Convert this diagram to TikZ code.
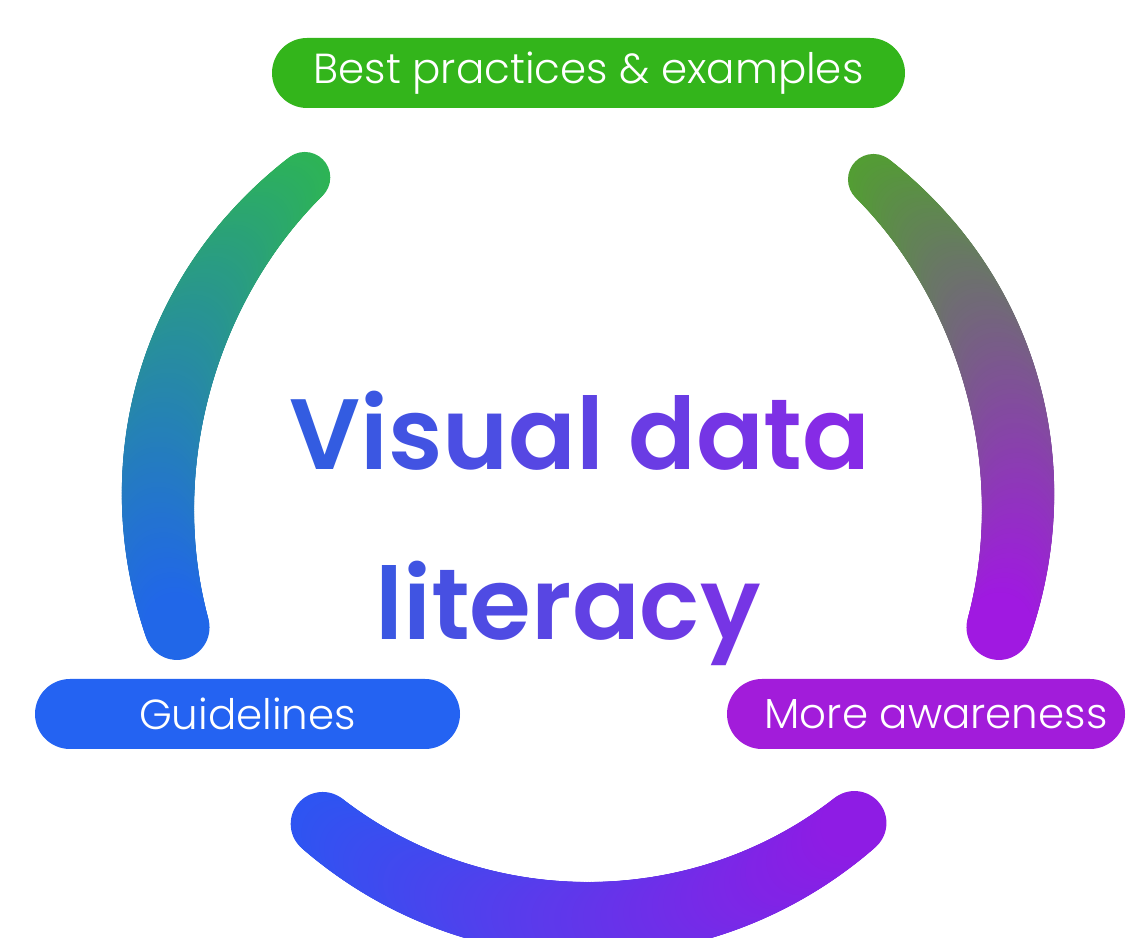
\documentclass[tikz,border=0pt]{standalone}
\usepackage{fontspec}
\setmainfont{Poppins}
\newfontfamily\pillfont{Poppins Light}
\newfontfamily\titlefont{Poppins SemiBold}
\definecolor{pillgreen}{RGB}{51,181,27}
\definecolor{pillblue}{RGB}{36,99,242}
\definecolor{pillpurple}{RGB}{162,28,218}
\definecolor{lgreen}{RGB}{45,180,85}
\definecolor{lblue}{RGB}{33,103,232}
\definecolor{rgreen}{RGB}{82,158,50}
\definecolor{rpurple}{RGB}{160,25,225}
\definecolor{bblue}{RGB}{45,85,242}
\definecolor{bpurple}{RGB}{142,28,228}
\definecolor{tblue}{RGB}{45,95,225}
\definecolor{tpurple}{RGB}{140,40,230}
\newcommand{\gl}[2]{\textcolor{tblue!#1!tpurple}{#2}}

\tikzset{
  pill/.style={rectangle, rounded corners=35pt, minimum height=70pt, inner sep=0pt,
    text=white, font=\pillfont\fontsize{42}{42}\selectfont},
  title/.style={anchor=base, inner sep=0pt, font=\titlefont\fontsize{100}{100}\selectfont}
}

\begin{document}
\begin{tikzpicture}[x=1pt,y=1pt]
  \useasboundingbox[fill=white] (0,0) rectangle (1127,937);
  \coordinate (hub) at (588,436);

  \foreach \t in {0,...,200}{
    \pgfmathsetmacro\ang{131.2+0.3295*\t}
    \pgfmathsetmacro\rad{25.5+0.035*\t+7.5*sin(0.9*\t)}
    \pgfmathtruncatemacro\pc{100-\t/2}
    \fill[lgreen!\pc!lblue] ([shift={(\ang:430)}]hub) circle (\rad pt);
  }
  \foreach \t in {0,...,200}{
    \pgfmathsetmacro\ang{48.4-0.3275*\t}
    \pgfmathsetmacro\rad{25.5+0.035*\t+7.5*sin(0.9*\t)}
    \pgfmathtruncatemacro\pc{100-\t/2}
    \fill[rgreen!\pc!rpurple] ([shift={(\ang:430)}]hub) circle (\rad pt);
  }
  \foreach \t in {0,...,200}{
    \pgfmathsetmacro\ang{230.6+0.395*\t}
    \pgfmathsetmacro\rad{32+5*sin(0.9*\t)}
    \pgfmathtruncatemacro\pc{100-\t/2}
    \fill[bblue!\pc!bpurple] ([shift={(\ang:418)}]hub) circle (\rad pt);
  }

  \node[pill, fill=pillgreen, minimum width=633pt] (best) at (588.5,864) {Best practices \& examples};
  \node[pill, fill=pillblue, minimum width=425pt] (guide) at (247.5,223) {Guidelines};
  \node[pill, fill=pillpurple, minimum width=398pt] (aware) at (926,223) {\hspace*{20pt}More awareness};

  \node[title] (visual) at (580,467) {\gl{94}{V}\gl{85}{i}\gl{78}{s}\gl{68}{u}\gl{57}{a}\gl{49}{l} \gl{36}{d}\gl{24}{a}\gl{15}{t}\gl{6}{a}};
  \node[title] (literacy) at (568,297) {\gl{85}{l}\gl{80}{i}\gl{73}{t}\gl{64}{e}\gl{55}{r}\gl{45}{a}\gl{34}{c}\gl{23}{y}};
\end{tikzpicture}
\end{document}
